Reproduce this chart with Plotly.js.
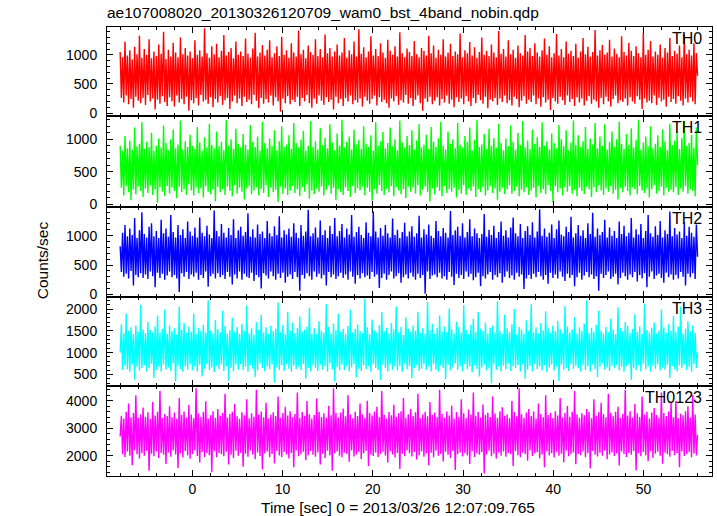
<!DOCTYPE html>
<html><head><meta charset="utf-8">
<script src="https://cdn.plot.ly/plotly-3.0.1.min.js"></script>
<style>html,body{margin:0;padding:0;background:#fff}#chart{width:717px;height:516px}</style>
</head><body><div id="chart"></div>
<script>
const titleText = "ae107008020_20130326120709_wam0_bst_4band_nobin.qdp";
const xTitle = "Time [sec] 0 = 2013/03/26 12:07:09.765";
const yTitle = "Counts/sec";
const bandNames = ["TH0", "TH1", "TH2", "TH3", "TH0123"];
const bandColors = ["#ff0000", "#00ff00", "#0000ff", "#00ffff", "#ff00ff"];
const timeStart = -8.0;
const timeEnd = 56.0;
const yRanges = [[-50, 1480], [-40, 1360], [-50, 1495], [240, 2270], [1260, 4545]];
const yMajor = [500, 500, 500, 500, 1000];
const yMinor = [100, 100, 100, 100, 200];

const th0 = [1050,260,960,180,1230,300,990,150,1080,240,920,90,1140,280,1010,210,1330,170,950,260,
1100,140,1000,310,1270,200,940,250,1060,60,980,230,1180,160,1020,290,1400,190,930,120,
1090,270,970,200,1210,110,1040,300,960,180,1300,240,1010,150,1120,280,990,40,1060,220,
940,170,1250,260,1000,130,1080,310,970,200,1460,230,1030,160,950,270,1150,100,1010,240,
1190,180,960,290,1070,140,1340,220,990,260,1050,70,1120,200,940,300,1230,170,1000,250,
1060,120,980,280,1280,190,1020,230,950,150,1110,310,1380,210,970,80,1040,260,1170,160,
990,240,1090,180,1250,300,960,130,1030,270,1150,200,980,20,1310,250,1000,170,1080,290,
950,150,1200,230,1040,190,970,280,1420,120,1010,260,1090,200,940,310,1160,170,1050,90,
1000,250,1270,160,980,300,1100,210,960,140,1350,270,1030,190,1120,230,970,60,1060,280,
1180,170,990,240,1040,120,1290,260,950,200,1080,300,1010,150,1230,220,970,180,1440,250,
1020,110,1130,280,960,210,1060,160,1320,240,990,300,1100,130,980,270,1200,190,1040,230,
950,170,1260,90,1070,250,1000,200,1150,290,970,140,1390,220,1030,180,960,310,1110,160,
1050,260,980,120,1240,230,1010,300,960,170,1120,40,1070,250,990,190,1330,280,1030,150,
1160,210,950,270,1090,130,1000,240,1270,180,970,300,1040,160,1190,230,980,100,1060,270,
1010,190,1370,250,960,150,1080,290,1030,200,1220,120,990,260,1130,170,950,310,1050,220,
1300,160,1000,280,1070,80,980,230,1180,200,1040,260,960,140,1410,250,1020,190,1100,300,
970,170,1250,220,1010,130,1090,280,950,240,1160,100,1030,210,990,290,1340,160,1060,230,
1120,190,980,300,1200,150,1040,250,970,110,1080,270,1280,180,1000,230,1150,50,960,260,
1030,200,1360,160,990,280,1100,220,960,140,1230,300,1020,190,1070,240,980,120,1190,270,
950,180,1060,250,1290,130,1010,210,1140,290,970,160,1050,230,1430,200,990,90,1080,260,
1170,150,1000,280,1040,200,1260,110,970,240,1110,300,1020,170,960,220,1320,190,1050,250,
990,130,1210,270,1070,200,980,160,1150,290,1030,230,960,70,1380,250,1000,180,1090,210,
1240,170,970,300,1060,140,1000,260,1180,200,950,230,1120,110,1040,280,1290,190,980,240,
1070,160,1020,290,1160,210,960,130,1350,250,1010,180,1090,270,990,200,1200,150,1030,640];

const th1 = [900,250,820,130,1050,280,860,180,980,60,840,220,1180,150,890,270,930,200,1260,110,
850,240,960,170,880,290,1100,140,820,230,900,20,1010,260,870,190,1210,120,940,280,
830,160,1000,250,1150,200,860,90,920,270,1290,180,840,230,970,140,880,300,1070,210,
900,130,850,260,1190,170,950,240,820,100,1030,280,870,190,1240,150,910,220,860,40,
1120,260,890,180,960,230,830,140,1300,270,900,200,1000,120,850,290,1160,160,930,250,
870,190,1080,70,910,240,840,280,1220,150,960,210,880,260,1040,130,820,230,1270,170,
940,290,860,110,1010,250,900,180,1140,220,830,30,970,270,1200,160,880,240,920,140,
1060,200,850,280,1250,170,940,230,870,120,990,260,1130,190,820,300,900,80,1280,210,
880,150,970,240,840,190,1170,270,910,130,1020,220,860,290,1230,160,950,250,830,60,
1090,230,900,180,1300,140,870,260,960,200,1040,110,840,280,1150,170,920,240,990,210,
850,270,1200,130,930,250,880,190,1060,50,820,230,1260,160,900,290,970,200,1110,140,
860,240,940,180,1180,280,890,120,1000,260,830,210,1290,150,950,230,870,90,1050,270,
910,190,1140,250,840,160,980,290,1230,130,870,220,920,270,1070,180,850,40,1190,240,
960,150,880,260,1010,200,1270,120,900,280,840,170,1120,230,930,190,1000,250,860,100,
1250,220,910,160,870,290,1050,140,960,240,1180,200,830,270,990,110,1300,230,880,180,
920,260,1080,130,850,210,1160,280,900,170,1020,240,870,60,1240,190,940,250,830,150,
1010,230,890,290,1210,160,960,200,840,270,1100,120,910,220,1280,180,870,260,980,140,
850,210,1150,250,930,100,1030,280,880,170,1260,230,900,150,970,290,840,200,1090,30,
940,270,860,180,1220,240,1000,130,890,260,1140,190,830,280,950,160,1290,220,910,120,
1060,250,880,200,970,150,1190,270,850,230,1010,110,920,260,1250,180,860,290,1040,210,
900,140,1230,240,840,190,960,280,1120,160,880,220,1000,70,1270,250,930,180,850,270,
1080,200,910,130,1170,260,870,230,990,150,1300,280,840,210,950,170,1040,240,890,100,
1200,230,860,290,930,160,1060,200,880,270,1150,130,970,250,830,190,1240,220,910,180,
980,260,1110,140,850,240,1020,190,1280,280,900,160,940,230,1070,200,870,120,1180,600];

const th2 = [820,380,1050,300,1180,350,990,270,1120,400,1010,150,1300,330,960,290,1090,360,1400,280,
1030,340,970,260,1150,390,1210,310,990,120,1080,370,960,280,1270,350,1040,250,1120,320,
980,390,1350,290,1060,330,970,270,1180,40,1010,360,1110,300,960,380,1240,260,1070,340,
1000,300,1140,370,970,250,1310,330,1050,280,990,390,1170,130,1020,310,960,350,1430,270,
1080,360,990,290,1200,330,1050,260,970,380,1130,300,1010,170,1280,340,960,270,1090,390,
1150,250,1000,350,1060,300,1380,280,980,370,1110,230,970,330,1190,290,1030,100,1070,360,
960,320,1250,270,1040,390,990,310,1160,250,1010,350,1330,280,970,370,1090,200,1020,300,
1120,340,980,260,1210,380,1050,290,960,60,1180,330,1000,270,1070,360,1440,310,990,250,
1040,390,1140,300,970,350,1260,270,1010,330,1090,150,960,380,1170,290,1030,340,1300,260,
990,310,1080,370,1200,280,970,340,1120,250,1020,390,1350,300,980,180,1060,330,1150,270,
1010,360,960,290,1230,320,1050,260,990,380,1410,300,1070,340,970,110,1130,280,1000,350,
1180,250,1040,330,970,390,1290,270,1010,310,1100,360,960,200,1060,290,1220,340,990,270,
1070,370,1160,300,980,250,1040,350,1340,280,970,330,1110,10,1020,390,1190,260,1000,320,
960,340,1250,290,1080,370,990,270,1130,310,1050,250,970,380,1420,300,1010,160,1090,350,
1150,280,1000,330,1210,260,970,390,1060,300,1280,350,990,240,1120,290,1040,370,960,140,
1030,310,1370,270,980,340,1100,380,1010,250,1170,330,960,290,1060,360,1240,200,1000,300,
1090,390,970,280,1140,320,1310,250,1040,370,990,300,1200,340,960,90,1080,270,1160,330,
1010,260,1230,350,970,290,1070,380,1450,310,1000,250,1120,330,980,180,1050,370,1190,280,
960,340,1110,270,1260,390,1020,300,990,230,1150,350,1060,280,1320,330,970,140,1040,290,
1180,370,1000,250,1090,320,960,380,1210,290,1030,340,1390,260,980,310,1120,60,1010,350,
1060,280,1270,330,970,390,1140,260,1000,300,1080,350,960,170,1240,280,1030,370,1170,310,
990,250,1050,340,1300,290,970,380,1110,220,1020,330,1200,270,960,360,1080,120,1350,300,
1040,390,980,260,1160,320,1010,350,1250,280,970,200,1090,370,1030,290,1410,340,990,250,
1130,330,1020,270,1070,380,960,300,1230,150,1000,350,1150,290,1050,360,980,260,1190,640];

const th3 = [1000,1650,600,1450,700,1900,620,1500,560,1580,730,1420,380,1620,680,1480,590,2100,650,1530,
710,1440,570,1700,640,1520,740,1460,420,1600,600,1850,690,1470,560,1550,720,1990,610,1430,
660,1620,580,1490,750,1560,340,1410,700,2050,620,1530,560,1680,690,1450,610,1600,730,1480,
590,1900,680,1420,570,1570,720,1500,450,1640,630,1460,740,2200,600,1510,660,1430,550,1750,
700,1540,620,1470,730,1960,580,1610,690,1440,360,1520,650,1800,570,1480,720,1590,610,1430,
740,1660,600,1500,680,2080,560,1450,710,1560,630,1410,440,1700,590,1530,750,1870,650,1460,
570,1580,690,1430,620,1620,730,1490,310,1550,660,2150,600,1470,710,1640,580,1420,740,1940,
630,1510,560,1690,700,1450,620,1570,680,1830,590,1480,740,1530,400,1600,650,2030,570,1440,
710,1560,640,1420,580,1720,730,1500,610,1460,690,2120,560,1590,750,1440,620,1670,340,1520,
670,1890,590,1480,720,1550,600,1430,700,1610,570,1990,660,1470,740,1540,430,1650,630,1500,
580,1450,710,2240,620,1580,690,1420,560,1760,740,1510,650,1460,600,1630,370,1940,720,1490,
640,1570,570,1440,730,1680,610,1530,680,2060,590,1470,700,1590,560,1410,750,1810,620,1550,
690,1480,420,1620,650,1500,720,1940,580,1450,630,1560,740,1430,600,2160,680,1520,570,1660,
730,1430,610,1570,560,1850,700,1490,640,1600,390,1470,720,2010,590,1540,660,1440,750,1710,
600,1590,690,1460,570,2090,740,1520,620,1420,680,1640,550,1780,710,1480,630,1930,450,1550,
660,1500,720,1690,590,1440,640,1570,300,1620,730,1460,600,2180,680,1510,570,1430,700,1870,
620,1560,750,1480,580,1650,690,2000,640,1420,710,1590,560,1530,730,1440,400,1740,610,1500,
700,2110,570,1460,740,1580,620,1430,680,1680,590,1510,710,1950,550,1560,660,1450,730,1620,
590,1490,680,1730,350,1540,720,1440,610,2070,650,1600,580,1470,740,1530,630,1820,700,1430,
640,1580,570,1500,710,1660,600,2200,690,1450,560,1570,730,1480,620,1640,440,1960,680,1510,
750,1440,610,1590,660,1470,580,1780,700,1530,640,1420,720,2040,590,1560,670,1490,560,1700,
690,1620,730,1450,380,1540,650,1880,600,1480,710,1600,570,1430,740,2130,620,1520,680,1460,
560,1570,700,1690,630,1440,740,1510,590,1990,660,1580,610,1460,720,1650,420,1500,690,1840,
620,1480,570,1600,710,2060,650,1430,730,1550,600,1720,680,1490,560,1620,740,1450,640,1000];

const th0123 = [2700,3450,2050,3350,1950,3600,2150,3900,2000,3400,1650,3550,2200,4200,2050,3380,1900,3500,2100,3750,
2000,3420,2180,3580,1450,3330,2070,3950,1980,3460,2150,3600,1920,4350,2100,3370,2030,3520,1700,3440,
2120,3800,1960,3400,2200,3570,2040,3340,1550,4100,2080,3480,1930,3610,2170,3390,2010,3850,1890,3500,
2060,3360,2190,4450,1990,3530,1750,3410,2130,3590,1950,3980,2090,3350,2020,3470,1400,3620,2160,3380,
1940,3700,2100,3450,2050,3560,1980,4250,2140,3390,1680,3520,2030,3600,1910,3880,2180,3430,2000,3340,
2110,3580,1600,3470,2070,4050,1960,3360,2190,3540,2040,3420,1870,4400,2120,3500,1990,3610,1500,3400,
2080,3930,2150,3350,1940,3490,2060,3580,1720,3440,2170,4150,2010,3380,1950,3550,2130,3780,2040,3460,
1900,3620,2100,3400,1580,3520,2190,4300,1980,3370,2050,3590,2140,3450,1830,3990,2020,3510,2170,3350,
2030,3480,1960,4080,2120,3600,1680,3410,2070,3540,1920,3380,2180,3820,2010,3470,1450,4450,2090,3560,
2150,3390,2000,3570,1940,3720,2110,3430,2060,4200,1780,3500,2190,3360,1970,3600,2040,3440,2130,3900,
1880,3510,2080,3380,2170,4000,1620,3550,2030,3460,1990,3610,2120,3780,1950,3400,2060,4350,2140,3490,
2010,3350,1750,3590,2160,3470,2040,3850,1930,3420,2100,3540,1520,3620,2070,4100,1980,3380,2190,3510,
2090,3700,1970,3440,2130,3580,1860,4250,2020,3360,2150,3500,1960,3600,2080,3430,1650,3950,2110,3480,
1940,3570,2180,3400,2000,4400,2060,3520,1790,3380,2140,3610,2030,3460,1920,3820,2170,3350,1480,3590,
2050,3420,2120,4050,1970,3540,2090,3370,2010,3680,1700,3500,2160,4300,1950,3440,2080,3600,2030,3390,
2130,3860,1350,3480,2040,3560,2180,3410,1980,4150,2070,3530,1900,3380,2120,3620,2000,3760,2150,3450,
1960,3500,2100,3360,2050,3990,1620,3590,2170,3430,2020,4450,1940,3510,2110,3380,2060,3570,1820,3700,
2190,3440,1990,3610,2080,3350,2130,3900,1910,3520,2040,3400,1580,4200,2160,3480,2010,3560,2090,3370,
1930,3620,2140,3460,2000,4100,2070,3390,1760,3550,2180,3810,1980,3420,2050,3600,2120,4350,1690,3500,
2060,3380,2020,3540,2150,3470,1940,3700,2100,3590,1530,3360,2170,4050,2030,3450,1970,3580,2110,3930,
2000,3510,2180,3400,1870,4250,2040,3560,2120,3430,1990,3600,2080,3780,1640,3370,2150,3520,2060,4400,
1950,3460,2100,3620,2030,3390,2170,3880,1460,3540,2090,3410,1980,4150,2130,3500,2010,3600,1800,3350,
2160,3570,1920,3730,2070,3480,2140,3380,2000,4300,1710,3550,2110,3440,2050,3610,1960,3960,2180,3400,
2020,4000,2090,3360,1580,3530,2150,3470,1990,3620,2060,3800,2130,3390,1940,4200,2080,3500,2010,2750];

const series = [th0, th1, th2, th3, th0123];
const domains = [[0.802, 1], [0.6, 0.802], [0.398, 0.6], [0.201, 0.398], [0, 0.201]];
const FONT = "Liberation Sans, Arial, Helvetica, sans-serif";

const traces = series.map((vals, i) => ({
  type: "scatter", mode: "lines",
  y: vals, x0: timeStart, dx: (timeEnd - timeStart) / (vals.length - 1),
  xaxis: i === 0 ? "x" : "x" + (i + 1),
  yaxis: i === 0 ? "y" : "y" + (i + 1),
  line: {color: bandColors[i], width: 1.4, simplify: false},
  hoverinfo: "skip", showlegend: false
}));

const layout = {
  width: 717, height: 516,
  margin: {l: 107, r: 5, t: 27, b: 40, pad: 0},
  paper_bgcolor: "#fff", plot_bgcolor: "#fff",
  font: {family: FONT, size: 14, color: "#000"},
  showlegend: false,
  annotations: [],
  title: {text: titleText, x: 0, xref: "paper", xanchor: "left", y: 1, yref: "container", yanchor: "top", pad: {t: 7}, font: {family: FONT, size: 15.5, color: "#000"}}
};

for (let i = 0; i < 5; i++) {
  const xk = i === 0 ? "xaxis" : "xaxis" + (i + 1);
  const yk = i === 0 ? "yaxis" : "yaxis" + (i + 1);
  const yid = i === 0 ? "y" : "y" + (i + 1);
  layout[xk] = {
    anchor: yid, range: [-9.46, 57.6], dtick: 10, tick0: 0,
    ticks: "inside", ticklen: 6, tickcolor: "#000", tickwidth: 1,
    mirror: "ticks", showline: true, linecolor: "#000", linewidth: 1,
    showgrid: false, zeroline: false,
    showticklabels: i === 4,
    tickfont: {family: FONT, size: 14, color: "#000"},
    minor: {dtick: 2, tick0: 0, ticks: "inside", ticklen: 3, tickcolor: "#000", showgrid: false}
  };
  if (i > 0) layout[xk].matches = "x";
  layout[yk] = {
    domain: domains[i], anchor: i === 0 ? "x" : "x" + (i + 1),
    range: yRanges[i], dtick: yMajor[i], tick0: 0,
    ticks: "inside", ticklen: 6, tickcolor: "#000", tickwidth: 1,
    mirror: "ticks", showline: true, linecolor: "#000", linewidth: 1,
    showgrid: false, zeroline: false,
    ticklabelstandoff: 6,
    tickfont: {family: FONT, size: 14, color: "#000"},
    minor: {dtick: yMinor[i], tick0: 0, ticks: "inside", ticklen: 3, tickcolor: "#000", showgrid: false}
  };
  layout.annotations.push({
    text: bandNames[i], xref: "paper", yref: "paper", x: 0.986, y: domains[i][1],
    xanchor: "right", yanchor: "top", yshift: -1, showarrow: false,
    font: {family: FONT, size: 16, color: "#000"}
  });
}
layout.annotations.push({
  text: yTitle, xref: "paper", yref: "paper", x: -0.107, y: 0.481, textangle: -90,
  xanchor: "center", yanchor: "middle", showarrow: false, font: {family: FONT, size: 15.5, color: "#000"}
});
layout.annotations.push({
  text: xTitle, xref: "paper", yref: "paper", x: 0.4815, y: -0.071,
  xanchor: "center", yanchor: "middle", showarrow: false, font: {family: FONT, size: 15.5, color: "#000"}
});

Plotly.newPlot("chart", traces, layout, {staticPlot: true, displayModeBar: false});
</script></body></html>
